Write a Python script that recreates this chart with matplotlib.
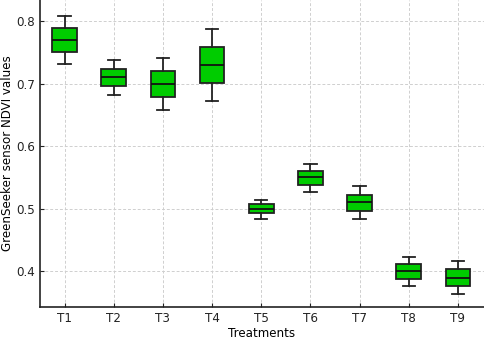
import matplotlib
matplotlib.use("Agg")
import matplotlib.pyplot as plt

treatments = ["T1", "T2", "T3", "T4", "T5", "T6", "T7", "T8", "T9"]
whislo = [0.732, 0.682, 0.658, 0.672, 0.484, 0.5275, 0.484, 0.376, 0.363]
q1     = [0.750, 0.6955, 0.678, 0.701, 0.4925, 0.5387, 0.497, 0.3877, 0.3765]
med    = [0.770, 0.710, 0.700, 0.730, 0.500, 0.550, 0.510, 0.400, 0.390]
q3     = [0.789, 0.723, 0.7205, 0.758, 0.507, 0.5605, 0.5227, 0.4117, 0.4032]
whishi = [0.8085, 0.7376, 0.741, 0.787, 0.514, 0.5717, 0.536, 0.4235, 0.4171]

stats = [dict(label=t, whislo=a, q1=b, med=c, q3=d, whishi=e, fliers=[])
         for t, a, b, c, d, e in zip(treatments, whislo, q1, med, q3, whishi)]

fig = plt.figure(figsize=(4.84, 3.38), dpi=100)
ax = fig.add_axes([40/484, 1 - 307/338, 1 - 40/484, 307/338])

ax.bxp(stats, positions=range(1, 10), widths=0.5, patch_artist=True,
       boxprops=dict(facecolor="#00cc00", edgecolor="#222222", linewidth=1.3),
       medianprops=dict(color="#111111", linewidth=1.3),
       whiskerprops=dict(color="#222222", linewidth=1.3),
       capprops=dict(color="#222222", linewidth=1.3))

ax.set_xlim(0.5, 9.53)
ax.set_ylim(0.343, 0.8336)
ax.set_yticks([0.4, 0.5, 0.6, 0.7, 0.8])
ax.set_xticks(range(1, 10))
ax.set_xticklabels(treatments)
ax.grid(True, linestyle=(0, (3, 2)), color="#cfcfcf", linewidth=0.7)
ax.set_axisbelow(True)
for s in ["top", "right"]:
    ax.spines[s].set_visible(False)
for s in ["left", "bottom"]:
    ax.spines[s].set_linewidth(1.2)
    ax.spines[s].set_color("#222222")
ax.tick_params(direction="in", length=3, labelsize=8.6, colors="#222222", pad=3.5)
ax.set_xlabel("Treatments", fontsize=8.6, labelpad=1.2)
ax.set_ylabel("GreenSeeker sensor NDVI values", fontsize=8.6, labelpad=1.5)

fig.savefig("out.png", dpi=100)
